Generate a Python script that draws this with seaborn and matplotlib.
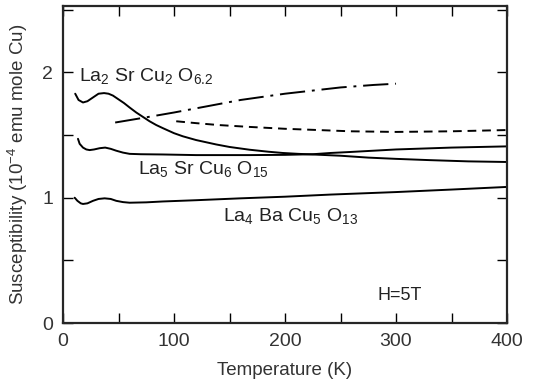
import matplotlib
matplotlib.use("Agg")
import matplotlib.pyplot as plt
import seaborn as sns
import pandas as pd
from matplotlib.ticker import MultipleLocator

# --- data ---
t_la2 = [11, 14, 18, 22, 27, 32, 37, 41, 45, 50, 55, 60, 66, 72, 78, 84, 90, 100, 108,
         120, 138, 150, 168, 185, 198, 212, 225, 250, 275, 300, 330, 365, 400]
chi_la2 = [1.83, 1.78, 1.76, 1.77, 1.80, 1.83, 1.835, 1.83, 1.815, 1.785, 1.755, 1.72, 1.68, 1.645, 1.61,
           1.58, 1.555, 1.515, 1.49, 1.46, 1.425, 1.405, 1.383, 1.367, 1.357, 1.35, 1.345, 1.335,
           1.32, 1.31, 1.30, 1.29, 1.285]

t_dash = [102, 120, 140, 168, 200, 230, 259, 300, 350, 400]
chi_dash = [1.61, 1.595, 1.58, 1.565, 1.55, 1.54, 1.53, 1.525, 1.53, 1.54]

t_dashdot = [47, 74, 100, 130, 160, 200, 250, 280, 300]
chi_dashdot = [1.60, 1.64, 1.68, 1.73, 1.78, 1.83, 1.88, 1.90, 1.91]

t_la5 = [13.5, 15, 18, 21, 24, 28, 33, 38, 43, 48, 54, 60, 70, 90, 120, 168, 200, 225, 241,
         259, 300, 350, 402]
chi_la5 = [1.47, 1.43, 1.40, 1.385, 1.38, 1.385, 1.395, 1.40, 1.39, 1.375, 1.36, 1.35, 1.347, 1.345,
           1.34, 1.34, 1.342, 1.347, 1.357, 1.365, 1.385, 1.40, 1.41]

t_la4 = [10.5, 13, 16, 18, 22, 27, 32, 37.5, 43, 48, 54, 60, 75, 90, 120, 160, 200, 241, 300,
         350, 400]
chi_la4 = [1.00, 0.975, 0.955, 0.95, 0.955, 0.975, 0.99, 0.995, 0.99, 0.975, 0.965, 0.96, 0.963,
           0.97, 0.98, 0.995, 1.008, 1.025, 1.045, 1.065, 1.086]

x_ticks = [0, 100, 200, 300, 400]
y_ticks = [0, 1, 2]

sns.set_style("ticks")
plt.rcParams['font.family'] = ['Liberation Sans', 'DejaVu Sans']
plt.rcParams['mathtext.fontset'] = 'custom'
plt.rcParams['mathtext.rm'] = 'Liberation Sans'
plt.rcParams['mathtext.it'] = 'Liberation Sans'

fig = plt.figure(figsize=(5.42, 3.81), dpi=100)
ax = fig.add_axes([63/542, 1 - 323/381, 444/542, 317/381])

lw = 1.4
sns.lineplot(x=t_la2, y=chi_la2, ax=ax, color='black', lw=lw, sort=False)
sns.lineplot(x=t_dash, y=chi_dash, ax=ax, color='black', lw=lw, sort=False, linestyle=(0, (4.5, 3)))
sns.lineplot(x=t_dashdot, y=chi_dashdot, ax=ax, color='black', lw=lw, sort=False,
             linestyle=(0, (13, 3.5, 1.5, 3.5)))
sns.lineplot(x=t_la5, y=chi_la5, ax=ax, color='black', lw=lw, sort=False)
sns.lineplot(x=t_la4, y=chi_la4, ax=ax, color='black', lw=lw, sort=False)

ax.set_xlim(0, 400)
ax.set_ylim(0, 2.53)
ax.set_xticks(x_ticks)
ax.set_yticks(y_ticks)
ax.xaxis.set_minor_locator(MultipleLocator(50))
ax.yaxis.set_minor_locator(MultipleLocator(0.5))
ax.tick_params(which='both', direction='in', top=True, right=True, length=7, width=1.0,
               labelsize=14, colors='black', labelcolor='#333333', pad=7)
for s in ax.spines.values():
    s.set_linewidth(1.6)

tc = '#222222'
fs = 14
ax.text(14, 1.97, r'La$_2$ Sr Cu$_2$ O$_{6.2}$', fontsize=fs, color=tc, va='center')
ax.text(68, 1.23, r'La$_5$ Sr Cu$_6$ O$_{15}$', fontsize=fs, color=tc, va='center')
ax.text(144, 0.85, r'La$_4$ Ba Cu$_5$ O$_{13}$', fontsize=fs, color=tc, va='center')
ax.text(283, 0.22, 'H=5T', fontsize=13, color=tc, va='center')

ax.set_xlabel('Temperature (K)', fontsize=13.5, color='#333333', labelpad=9)
ax.set_ylabel(r'Susceptibility (10$^{-4}$ emu mole Cu)', fontsize=13.5, color='#333333', labelpad=9)

fig.savefig('out.png', dpi=100)
